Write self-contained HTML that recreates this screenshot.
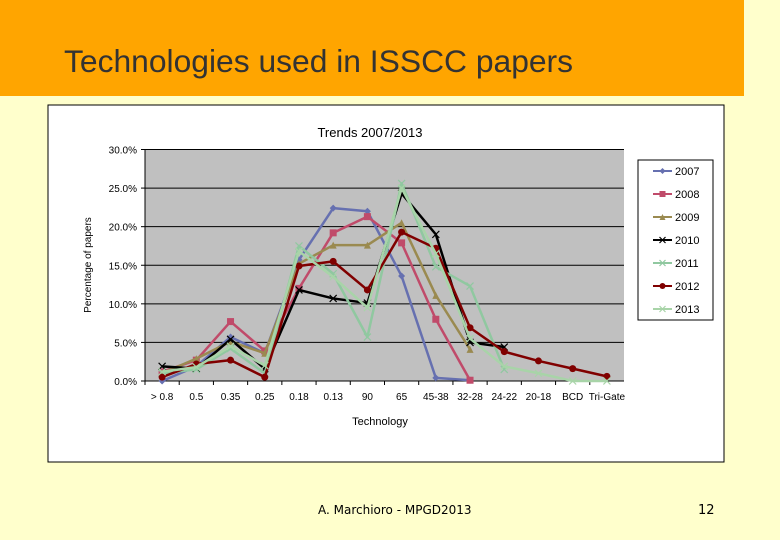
<!DOCTYPE html>
<html><head><meta charset="utf-8"><style>
body{margin:0;width:780px;height:540px;background:#FFFFCC;overflow:hidden;font-family:"Liberation Sans",sans-serif}
#hdr{position:absolute;left:0;top:0;width:744px;height:96px;background:#FFA500}
#ttl{position:absolute;left:64px;top:43px;font-size:31.8px;color:#333}
#foot{position:absolute;left:318px;top:503px;font-size:12px;font-family:"Comic Sans MS","DejaVu Sans",sans-serif}
#pg{position:absolute;left:698px;top:503px;font-size:13px;font-family:"Comic Sans MS","DejaVu Sans",sans-serif}
svg{position:absolute;left:0;top:0}
</style></head><body>
<div id="hdr"></div>
<div id="ttl">Technologies used in ISSCC papers</div>
<div id="foot">A. Marchioro - MPGD2013</div>
<div id="pg">12</div>
<svg id="ch" width="780" height="540"></svg>
<script>
const categories=["> 0.8","0.5","0.35","0.25","0.18","0.13","90","65","45-38","32-28","24-22","20-18","BCD","Tri-Gate"];
const seriesNames=["2007","2008","2009","2010","2011","2012","2013"];
const s2007=[0,1.9,5.7,3.6,15.7,22.4,22.0,13.6,0.4,0.1];
const s2008=[1.2,2.7,7.7,3.9,12,19.2,21.3,17.9,8,0.1];
const s2009=[1.0,2.9,5.1,3.6,15.2,17.6,17.6,20.5,11.1,4.1];
const s2010=[1.9,1.6,5.4,1.6,11.8,10.7,10.1,24.3,19,5.0,4.4];
const s2011=[1.0,1.5,4.2,1.0,17.5,13.9,5.7,25.6,14.8,12.3,1.5];
const s2012=[0.5,2.2,2.7,0.5,14.9,15.5,11.8,19.3,17.2,6.9,3.8,2.6,1.6,0.6];
const s2013=[1.2,1.8,4.5,2.0,16.8,13.5,9.5,25.0,16.5,5.5,1.9,1.0,0,0];
const yTicks=[0,5,10,15,20,25,30];
const colors=["#6670B0","#C04B6A","#9A8A50","#000000","#90C8A0","#800000","#A8D4A8"];
const markers=["diamond","square","triangle","x","x","circle","x"];
const data=[s2007,s2008,s2009,s2010,s2011,s2012,s2013];
const L=145,R=624,T=149.5,B=381;
const step=(R-L)/categories.length;
const xs=i=>L+step*(i+0.5), ys=v=>B-(v/30)*(B-T);
const svg=document.getElementById('ch');const NS="http://www.w3.org/2000/svg";
function el(t,a,p){const e=document.createElementNS(NS,t);for(const k in a)e.setAttribute(k,a[k]);(p||svg).appendChild(e);return e;}
let e=el('rect',{x:48,y:105,width:676,height:357,fill:'#fff',stroke:'#000','stroke-width':1});

e=el('rect',{x:L,y:T,width:R-L,height:B-T,fill:'#C0C0C0'});

yTicks.forEach(v=>{const y=ys(v);
 const g=el('line',{x1:L,x2:R,y1:y,y2:y,stroke:'#000','stroke-width':1});
 
 el('line',{x1:L-4,x2:L,y1:y,y2:y,stroke:'#000'});
 const t=el('text',{x:137,y:y+4,'text-anchor':'end','font-size':10});t.textContent=v.toFixed(1)+'%';
 });
el('line',{x1:L,x2:L,y1:T,y2:B,stroke:'#000'});
categories.forEach((c,i)=>{el('line',{x1:L+step*i,x2:L+step*i,y1:B,y2:B+4,stroke:'#000'});
 const t=el('text',{x:xs(i),y:400,'text-anchor':'middle','font-size':10});t.textContent=c;
 });
function mark(type,x,y,c,g,s){s=s||3.5;
 if(type=='diamond')el('polygon',{points:`${x},${y-s} ${x+s},${y} ${x},${y+s} ${x-s},${y}`,fill:c},g);
 else if(type=='square')el('rect',{x:x-s,y:y-s,width:2*s,height:2*s,fill:c},g);
 else if(type=='triangle')el('polygon',{points:`${x},${y-s} ${x+s},${y+s} ${x-s},${y+s}`,fill:c},g);
 else if(type=='circle')el('circle',{cx:x,cy:y,r:s,fill:c},g);
 else{el('line',{x1:x-s,y1:y-s,x2:x+s,y2:y+s,stroke:c,'stroke-width':1.2},g);el('line',{x1:x-s,y1:y+s,x2:x+s,y2:y-s,stroke:c,'stroke-width':1.2},g);}}
data.forEach((d,k)=>{const g=el('g',{});
 
 el('polyline',{points:d.map((v,i)=>xs(i)+','+ys(v)).join(' '),fill:'none',stroke:colors[k],'stroke-width':2.5,'stroke-linejoin':'round'},g);
 d.forEach((v,i)=>mark(markers[k],xs(i),ys(v),colors[k],g));});
e=el('rect',{x:638,y:160,width:75,height:160,fill:'#fff',stroke:'#000'});

seriesNames.forEach((n,k)=>{const y=171+k*23;const g=el('g',{});
 
 el('line',{x1:653,x2:672,y1:y,y2:y,stroke:colors[k],'stroke-width':2},g);mark(markers[k],662.5,y,colors[k],g,3);
 const t=el('text',{x:675,y:y+4,'font-size':11},g);t.textContent=n;});
let t=el('text',{x:370,y:137,'text-anchor':'middle','font-size':13});t.textContent='Trends 2007/2013';

t=el('text',{x:380,y:425,'text-anchor':'middle','font-size':11});t.textContent='Technology';

t=el('text',{x:0,y:0,'text-anchor':'middle','font-size':10,transform:'translate(91,265) rotate(-90)'});t.textContent='Percentage of papers';

</script></body></html>
